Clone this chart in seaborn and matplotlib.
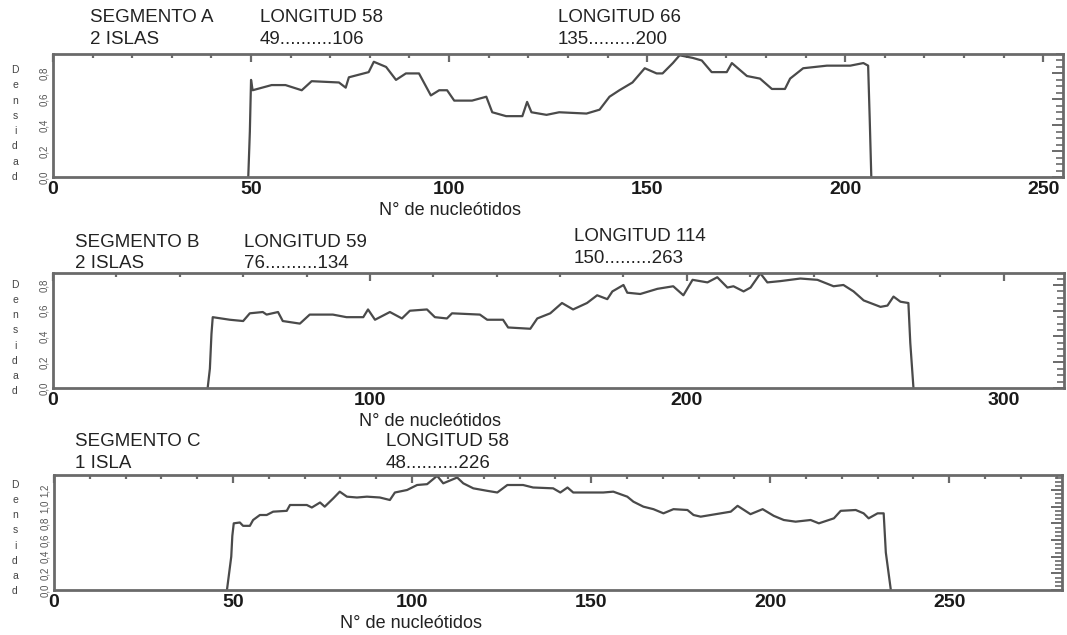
import numpy as np
import pandas as pd
import seaborn as sns
import matplotlib
matplotlib.use("Agg")
import matplotlib.pyplot as plt
from matplotlib.ticker import MultipleLocator

# ---------------- data ----------------
a_x = [49.3, 49.7, 50.0, 50.4, 55.2, 58.7, 62.8, 65.3, 72.2, 73.9, 74.7, 79.7, 81.0, 84.1, 86.6,
       89.1, 92.4, 95.4, 97.5, 99.5, 101.3, 105.8, 109.4, 110.9, 114.4, 118.5, 119.7, 120.8,
       124.6, 127.8, 134.7, 138.0, 140.5, 143.0, 146.3, 149.4, 152.4, 153.9, 156.5, 158.2,
       161.5, 163.8, 166.3, 170.1, 171.4, 175.2, 178.5, 181.5, 184.8, 186.1, 189.4, 195.4,
       201.3, 204.6, 205.8, 206.2, 206.6]
a_y = [0.0, 0.35, 0.75, 0.67, 0.71, 0.71, 0.67, 0.74, 0.73, 0.69, 0.77, 0.81, 0.89, 0.85, 0.75,
       0.80, 0.80, 0.63, 0.67, 0.67, 0.59, 0.59, 0.62, 0.50, 0.47, 0.47, 0.58, 0.50,
       0.48, 0.50, 0.49, 0.52, 0.62, 0.67, 0.73, 0.84, 0.80, 0.80, 0.88, 0.94,
       0.92, 0.90, 0.81, 0.81, 0.88, 0.78, 0.76, 0.68, 0.68, 0.76, 0.84, 0.86,
       0.86, 0.88, 0.86, 0.45, 0.0]

b_x = [48.8, 49.5, 50.0, 50.4, 55.8, 60.0, 62.1, 66.2, 67.4, 71.0, 72.5, 77.9, 81.0, 88.3, 92.6,
       97.9, 99.4, 101.6, 106.3, 110.1, 112.6, 118.0, 120.5, 124.3, 125.9, 134.7, 137.0, 142.0,
       143.6, 150.6, 152.8, 156.9, 160.6, 164.1, 168.5, 171.7, 174.9, 176.5, 180.0, 181.2,
       185.3, 190.7, 195.7, 198.9, 201.8, 206.5, 209.6, 212.8, 214.7, 217.9, 220.1, 223.2,
       225.4, 229.5, 235.8, 241.2, 246.3, 249.4, 252.6, 255.8, 261.1, 263.3, 265.2, 267.4,
       269.9, 270.5, 271.5]
b_y = [0.0, 0.15, 0.42, 0.55, 0.53, 0.52, 0.58, 0.59, 0.57, 0.59, 0.52, 0.50, 0.57, 0.57, 0.55,
       0.55, 0.61, 0.53, 0.59, 0.54, 0.60, 0.61, 0.55, 0.54, 0.58, 0.57, 0.53, 0.53,
       0.47, 0.46, 0.54, 0.58, 0.66, 0.61, 0.66, 0.72, 0.69, 0.75, 0.80, 0.74,
       0.73, 0.77, 0.79, 0.72, 0.84, 0.82, 0.86, 0.78, 0.79, 0.75, 0.78, 0.89,
       0.82, 0.83, 0.85, 0.84, 0.79, 0.80, 0.75, 0.68, 0.63, 0.64, 0.71, 0.67,
       0.66, 0.35, 0.0]

c_x = [48.3, 49.5, 49.8, 50.2, 51.9, 52.8, 54.7, 55.6, 57.5, 59.4, 61.2, 65.0, 65.9, 70.6, 72.0,
       74.3, 75.6, 78.0, 79.8, 81.8, 84.6, 87.4, 91.0, 93.8, 95.2, 98.6, 101.4, 104.2, 107.0,
       108.7, 112.6, 114.3, 117.1, 121.0, 123.8, 126.6, 131.0, 133.8, 139.4, 141.4, 143.4,
       145.0, 153.4, 156.2, 160.1, 161.8, 164.6, 167.4, 170.2, 173.0, 176.9, 178.6, 180.6,
       186.2, 189.0, 190.9, 194.5, 197.9, 201.0, 203.8, 207.1, 211.3, 213.6, 217.8, 219.7,
       223.9, 226.1, 227.5, 230.0, 231.7, 232.3, 233.7]
c_y = [0.0, 0.40, 0.65, 0.80, 0.81, 0.77, 0.77, 0.84, 0.90, 0.90, 0.94, 0.95, 1.02, 1.02, 0.99,
       1.05, 1.00, 1.10, 1.18, 1.12, 1.11, 1.12, 1.11, 1.08, 1.17, 1.20, 1.26, 1.27, 1.37,
       1.28, 1.35, 1.28, 1.22, 1.19, 1.17, 1.26, 1.26, 1.23, 1.22, 1.17, 1.23,
       1.17, 1.17, 1.18, 1.12, 1.06, 1.00, 0.97, 0.92, 0.97, 0.96, 0.90, 0.88,
       0.92, 0.94, 1.01, 0.91, 0.97, 0.89, 0.84, 0.82, 0.84, 0.80, 0.86, 0.95,
       0.96, 0.92, 0.86, 0.92, 0.92, 0.45, 0.0]

a_xticks = [0, 50, 100, 150, 200, 250]
b_xticks = [0, 100, 200, 300]
c_xticks = [0, 50, 100, 150, 200, 250]
ab_yticks = [0.0, 0.2, 0.4, 0.6, 0.8]
ab_ylabels = ["0,0", "0,2", "0,4", "0,6", "0,8"]
c_yticks = [0.0, 0.2, 0.4, 0.6, 0.8, 1.0, 1.2]
c_ylabels = ["0,0", "0,2", "0,4", "0,6", "0,8", "1,0", "1,2"]

headers = {
    "A": [("SEGMENTO A", 90, 17), ("2 ISLAS", 90, 40), ("LONGITUD 58", 260, 17),
          ("49..........106", 260, 40), ("LONGITUD 66", 558, 17), ("135.........200", 558, 40)],
    "B": [("SEGMENTO B", 75, 242), ("2 ISLAS", 75, 264), ("LONGITUD 59", 244, 242),
          ("76..........134", 244, 264), ("LONGITUD 114", 574, 236), ("150.........263", 574, 258)],
    "C": [("SEGMENTO C", 75, 442), ("1 ISLA", 75, 463), ("LONGITUD 58", 386, 442),
          ("48..........226", 386, 463)],
}
xlabel_text = "N° de nucleótidos"
ylabel_text = "Densidad"

# ---------------- figure ----------------
sns.set_theme(style="white")
plt.rcParams['font.family'] = ['Liberation Sans', 'DejaVu Sans']

W, H = 1067, 635
fig = plt.figure(figsize=(W / 100, H / 100), dpi=100)


def box(l, r, t, b):
    return [l / W, 1 - b / H, (r - l) / W, (b - t) / H]


panels = [
    dict(key="A", rect=box(53, 1063, 54, 177), x=a_x, y=a_y, xlim=(0, 255), ylim=(0, 0.95),
         xt=a_xticks, xminor=10, yt=ab_yticks, yl=ab_ylabels, xlab=(450, 210), ylab_y=(70, 177)),
    dict(key="B", rect=box(53, 1064, 273, 388), x=b_x, y=b_y, xlim=(0, 319), ylim=(0, 0.893),
         xt=b_xticks, xminor=20, yt=ab_yticks, yl=ab_ylabels, xlab=(430, 421), ylab_y=(285, 391)),
    dict(key="C", rect=box(54, 1062, 475, 590), x=c_x, y=c_y, xlim=(0, 281.5), ylim=(0, 1.38),
         xt=c_xticks, xminor=10, yt=c_yticks, yl=c_ylabels, xlab=(411, 624), ylab_y=(485, 591)),
]

spine_col = "#6a6a6a"
line_col = "#4a4a4a"

for p in panels:
    ax = fig.add_axes(p["rect"])
    df = pd.DataFrame({"x": p["x"], "y": p["y"]})
    sns.lineplot(data=df, x="x", y="y", ax=ax, sort=False, estimator=None,
                 color=line_col, linewidth=1.6)
    ax.set_xlim(*p["xlim"])
    ax.set_ylim(*p["ylim"])
    ax.set_xlabel("")
    ax.set_ylabel("")
    ax.set_xticks(p["xt"])
    ax.set_xticklabels([str(v) for v in p["xt"]], fontsize=14, fontweight="bold",
                       color="#1a1a1a")
    ax.xaxis.set_minor_locator(MultipleLocator(p["xminor"]))
    ax.set_yticks(p["yt"])
    ax.set_yticklabels(p["yl"], fontsize=7, color="#555555", rotation=90, va="center")
    ax.yaxis.set_minor_locator(MultipleLocator(0.05))
    ax.tick_params(axis="both", which="both", direction="in", top=True, right=True,
                   color=spine_col)
    ax.tick_params(axis="x", which="major", length=6, width=1.6, pad=3)
    ax.tick_params(axis="x", which="minor", length=3, width=1.6)
    ax.tick_params(axis="y", which="major", length=8, width=1.4, pad=3)
    ax.tick_params(axis="y", which="minor", length=5, width=1.2)
    for s in ax.spines.values():
        s.set_color(spine_col)
        s.set_linewidth(2)
    ax.grid(False)

    # headers
    for txt, hx, hy in headers[p["key"]]:
        fig.text(hx / W, 1 - hy / H, txt, fontsize=13.5, ha="left", va="center", color="#222222")
    # x label
    fig.text(p["xlab"][0] / W, 1 - p["xlab"][1] / H, xlabel_text, fontsize=13,
             ha="center", va="center", color="#222222")
    # stacked y label
    y0, y1 = p["ylab_y"]
    n = len(ylabel_text)
    for i, ch in enumerate(ylabel_text):
        yy = y0 + (y1 - y0) * i / (n - 1)
        fig.text(15 / W, 1 - yy / H, ch, fontsize=7.5, ha="center", va="center", color="#444444")

fig.savefig("out.png", dpi=100)
